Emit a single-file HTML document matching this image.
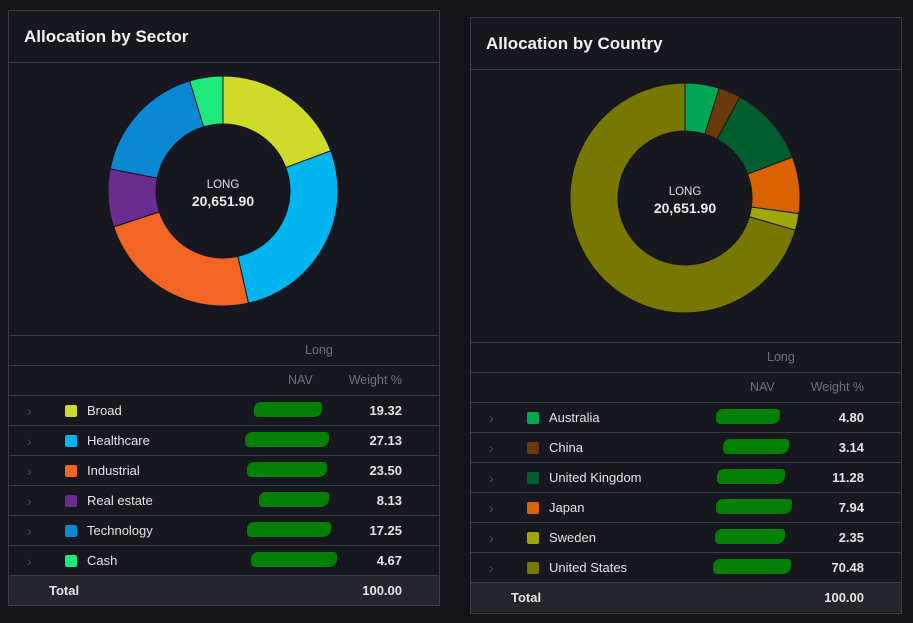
<!DOCTYPE html>
<html><head><meta charset="utf-8"><style>
body{margin:0;width:913px;height:623px;background:#131318;font-family:"Liberation Sans",sans-serif;position:relative;overflow:hidden}
.panel{position:absolute;background:#17171f;border:1px solid #3c3c46;box-sizing:border-box}
.title{position:absolute;left:15px;font-weight:bold;font-size:17px;color:#f2f2f2}
.hl{position:absolute;left:0;right:0;height:1px;background:#3c3c46}
.row{position:absolute;left:0;right:0;height:30px;border-top:1px solid #3c3c46;box-sizing:border-box;font-size:13px;color:#e4e4e4}
.row span{position:absolute;top:7px}
.chev{left:18px;color:#4a4a52;font-size:14px}
.sw{position:absolute;top:9px;left:56px;width:12px;height:12px;border-radius:2px}
.blob{position:absolute;top:6px;height:15px;background:#007f00;border-radius:7px 3px 8px 4px}
.val{right:37px;font-weight:bold}
.gh{color:#6f6f78;font-size:12.5px}
</style></head><body>
<div id="root"></div>
<script>
const sectorNames=["Broad","Healthcare","Industrial","Real estate","Technology","Cash"];
const sectorVals=[19.32,27.13,23.50,8.13,17.25,4.67];
const sectorColors=["#cddc29","#00b4f0","#f26522","#6a2c91","#0a88d4","#1de87a"];
const countryNames=["Australia","China","United Kingdom","Japan","Sweden","United States"];
const countryVals=[4.80,3.14,11.28,7.94,2.35,70.48];
const countryColors=["#00a651","#6b3a0a","#005e2e","#d96100","#a0a800","#787800"];
const totalLabel="20,651.90";
const totalWeights=["100.00","100.00"];
const blobsL=[[245,68],[236,84],[238,80],[250,70],[238,84],[242,86]];
const blobsR=[[245,64],[252,66],[246,68],[245,76],[244,70],[242,78]];
function panel(x,y,w,h,title,names,vals,colors,blobs,name,totalText){
 const p=document.createElement('div');p.className='panel';
 
 
 p.style.cssText=`left:${x}px;top:${y}px;width:${w}px;height:${h}px`;
 let html=`<div class="title" style="top:16px">${title}</div><div class="hl" style="top:51px"></div>`;
 const cx=214,cy=180,R=115,r=67;let a=0;const tot=vals.reduce((s,v)=>s+v,0);
 let svg=`<svg width="${w-2}" height="272" style="position:absolute;left:0;top:0;overflow:visible">`;
 vals.forEach((v,i)=>{const a0=a/tot*2*Math.PI;a+=v;const a1=a/tot*2*Math.PI;const lg=(a1-a0)>Math.PI?1:0;
  const P=(rad,an)=>[cx+rad*Math.sin(an),cy-rad*Math.cos(an)];
  const [x0,y0]=P(R,a0),[x1,y1]=P(R,a1),[x2,y2]=P(r,a1),[x3,y3]=P(r,a0);
  svg+=`<path d="M${x0},${y0}A${R},${R} 0 ${lg} 1 ${x1},${y1}L${x2},${y2}A${r},${r} 0 ${lg} 0 ${x3},${y3}Z" fill="${colors[i]}" stroke="#17171f" stroke-width="1"/>`;});
 svg+=`<text x="${cx}" y="${cy-3}" text-anchor="middle" fill="#e0e0e0" font-size="11.5" font-family="Liberation Sans">LONG</text><text x="${cx}" y="${cy+15}" text-anchor="middle" fill="#eaeaea" font-size="14" font-weight="bold" font-family="Liberation Sans">${totalLabel}</text></svg>`;
 html+=svg;
 const t=324;
 html+=`<div class="row gh" style="top:${t}px"><span style="left:296px">Long</span></div>`;
 html+=`<div class="row gh" style="top:${t+30}px"><span style="left:279px">NAV</span><span style="right:37px">Weight %</span></div>`;
 names.forEach((n,i)=>{html+=`<div class="row" style="top:${t+60+i*30}px"><span class="chev">&#x203A;</span><div class="sw" style="background:${colors[i]}"></div><span style="left:78px">${n}</span><div class="blob" style="left:${blobs[i][0]}px;width:${blobs[i][1]-blobs[i][0]}px"></div><span class="val">${vals[i].toFixed(2)}</span></div>`;});
 html+=`<div class="row" style="top:${t+240}px;background:#25252d;height:30px"><span style="left:40px;font-weight:bold">Total</span><span class="val">${totalText}</span></div>`;
 p.innerHTML=html;document.getElementById('root').appendChild(p);
}
panel(8,10,432,596,"Allocation by Sector",sectorNames,sectorVals,sectorColors,blobsL.map(b=>[b[0],b[0]+b[1]]),"sector-panel",totalWeights[0]);
panel(470,17,432,597,"Allocation by Country",countryNames,countryVals,countryColors,blobsR.map(b=>[b[0],b[0]+b[1]]),"country-panel",totalWeights[1]);
</script>
</body></html>
